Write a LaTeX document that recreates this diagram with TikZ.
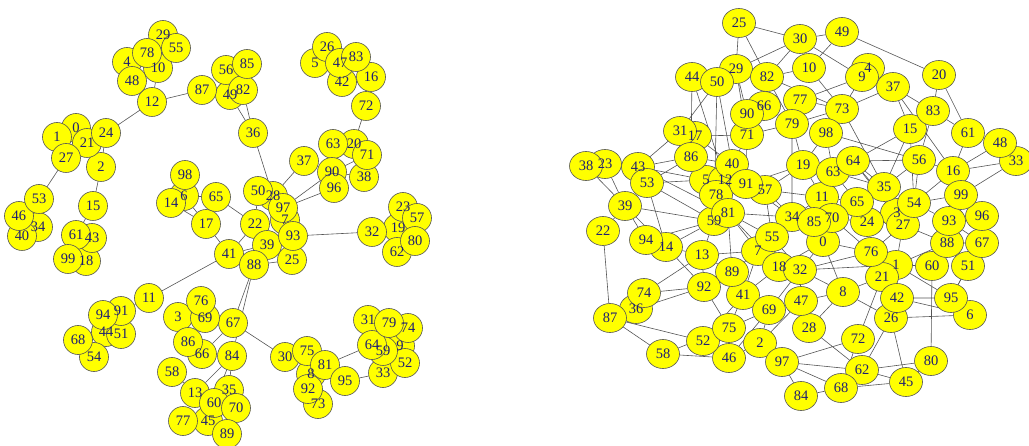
\documentclass[tikz,border=0pt]{standalone}
\usepackage{fontspec}
\setmainfont{Liberation Serif}
\usepackage{tikz}
\usetikzlibrary{shapes.geometric,backgrounds}
\definecolor{vyellow}{RGB}{255,255,0}
\definecolor{vlabel}{RGB}{30,30,115}
\definecolor{vline}{RGB}{85,85,85}

\begin{document}
\begin{tikzpicture}[x=1pt,y=-1pt,
  font={\fontsize{14.5}{14.5}\selectfont},
  lnode/.style={circle,draw=vline,line width=0.6pt,fill=vyellow,minimum size=29pt,inner sep=0pt},
  rnode/.style={ellipse,draw=vline,line width=0.6pt,fill=vyellow,minimum width=33pt,minimum height=29pt,inner sep=0pt},
  vtext/.style={text=vlabel,inner sep=0pt},
  edge/.style={draw=vline,line width=0.6pt}]
  \useasboundingbox (0,0) rectangle (1029,446);
  % left network
  \node[lnode] (l0) at (76,128) {};
  \node[lnode] (l1) at (57,137) {};
  \node[lnode] (l2) at (101,167) {};
  \node[lnode] (l3) at (178,317) {};
  \node[lnode] (l4) at (127,62) {};
  \node[lnode] (l5) at (315,63) {};
  \node[lnode] (l6) at (184,196) {};
  \node[lnode] (l7) at (285,220) {};
  \node[lnode] (l8) at (311,374) {};
  \node[lnode] (l9) at (400,346) {};
  \node[lnode] (l10) at (158,68) {};
  \node[lnode] (l11) at (149,298) {};
  \node[lnode] (l12) at (152,102) {};
  \node[lnode] (l13) at (195,393) {};
  \node[lnode] (l14) at (171,203) {};
  \node[lnode] (l15) at (93,206) {};
  \node[lnode] (l16) at (371,77) {};
  \node[lnode] (l17) at (206,224) {};
  \node[lnode] (l18) at (86,261) {};
  \node[lnode] (l19) at (398,228) {};
  \node[lnode] (l20) at (354,144) {};
  \node[lnode] (l21) at (87,143) {};
  \node[lnode] (l22) at (255,224) {};
  \node[lnode] (l23) at (403,207) {};
  \node[lnode] (l24) at (106,133) {};
  \node[lnode] (l25) at (292,260) {};
  \node[lnode] (l26) at (327,47) {};
  \node[lnode] (l27) at (66,158) {};
  \node[lnode] (l28) at (273,196) {};
  \node[lnode] (l29) at (163,35) {};
  \node[lnode] (l30) at (285,357) {};
  \node[lnode] (l31) at (368,320) {};
  \node[lnode] (l32) at (372,232) {};
  \node[lnode] (l33) at (383,373) {};
  \node[lnode] (l34) at (38,227) {};
  \node[lnode] (l35) at (229,390) {};
  \node[lnode] (l36) at (253,133) {};
  \node[lnode] (l37) at (304,161) {};
  \node[lnode] (l38) at (364,177) {};
  \node[lnode] (l39) at (267,245) {};
  \node[lnode] (l40) at (22,236) {};
  \node[lnode] (l41) at (229,254) {};
  \node[lnode] (l42) at (342,82) {};
  \node[lnode] (l43) at (92,238) {};
  \node[lnode] (l44) at (106,332) {};
  \node[lnode] (l45) at (208,421) {};
  \node[lnode] (l46) at (19,216) {};
  \node[lnode] (l47) at (340,63) {};
  \node[lnode] (l48) at (132,81) {};
  \node[lnode] (l49) at (230,95) {};
  \node[lnode] (l50) at (258,191) {};
  \node[lnode] (l51) at (121,334) {};
  \node[lnode] (l52) at (405,363) {};
  \node[lnode] (l53) at (39,199) {};
  \node[lnode] (l54) at (94,357) {};
  \node[lnode] (l55) at (176,48) {};
  \node[lnode] (l56) at (226,70) {};
  \node[lnode] (l57) at (417,218) {};
  \node[lnode] (l58) at (172,372) {};
  \node[lnode] (l59) at (383,351) {};
  \node[lnode] (l60) at (214,403) {};
  \node[lnode] (l61) at (76,235) {};
  \node[lnode] (l62) at (397,252) {};
  \node[lnode] (l63) at (333,144) {};
  \node[lnode] (l64) at (372,345) {};
  \node[lnode] (l65) at (216,197) {};
  \node[lnode] (l66) at (202,354) {};
  \node[lnode] (l67) at (233,323) {};
  \node[lnode] (l68) at (78,340) {};
  \node[lnode] (l69) at (205,318) {};
  \node[lnode] (l70) at (236,408) {};
  \node[lnode] (l71) at (367,155) {};
  \node[lnode] (l72) at (366,106) {};
  \node[lnode] (l73) at (318,404) {};
  \node[lnode] (l74) at (408,328) {};
  \node[lnode] (l75) at (307,351) {};
  \node[lnode] (l76) at (201,301) {};
  \node[lnode] (l77) at (183,421) {};
  \node[lnode] (l78) at (147,53) {};
  \node[lnode] (l79) at (389,323) {};
  \node[lnode] (l80) at (415,241) {};
  \node[lnode] (l81) at (325,365) {};
  \node[lnode] (l82) at (243,90) {};
  \node[lnode] (l83) at (356,57) {};
  \node[lnode] (l84) at (232,356) {};
  \node[lnode] (l85) at (247,64) {};
  \node[lnode] (l86) at (188,342) {};
  \node[lnode] (l87) at (202,90) {};
  \node[lnode] (l88) at (254,265) {};
  \node[lnode] (l89) at (227,434) {};
  \node[lnode] (l90) at (332,172) {};
  \node[lnode] (l91) at (121,311) {};
  \node[lnode] (l92) at (308,389) {};
  \node[lnode] (l93) at (293,236) {};
  \node[lnode] (l94) at (103,315) {};
  \node[lnode] (l95) at (345,381) {};
  \node[lnode] (l96) at (334,188) {};
  \node[lnode] (l97) at (283,208) {};
  \node[lnode] (l98) at (185,175) {};
  \node[lnode] (l99) at (68,259) {};
  % right network
  \node[rnode] (r0) at (823,242) {};
  \node[rnode] (r1) at (896,265) {};
  \node[rnode] (r2) at (760,343) {};
  \node[rnode] (r3) at (897,213) {};
  \node[rnode] (r4) at (868,68) {};
  \node[rnode] (r5) at (706,180) {};
  \node[rnode] (r6) at (970,315) {};
  \node[rnode] (r7) at (758,251) {};
  \node[rnode] (r8) at (843,292) {};
  \node[rnode] (r9) at (862,77) {};
  \node[rnode] (r10) at (809,68) {};
  \node[rnode] (r11) at (822,197) {};
  \node[rnode] (r12) at (725,180) {};
  \node[rnode] (r13) at (702,255) {};
  \node[rnode] (r14) at (666,247) {};
  \node[rnode] (r15) at (910,129) {};
  \node[rnode] (r16) at (953,171) {};
  \node[rnode] (r17) at (695,136) {};
  \node[rnode] (r18) at (779,267) {};
  \node[rnode] (r19) at (803,165) {};
  \node[rnode] (r20) at (939,75) {};
  \node[rnode] (r21) at (882,277) {};
  \node[rnode] (r22) at (603,231) {};
  \node[rnode] (r23) at (605,164) {};
  \node[rnode] (r24) at (867,222) {};
  \node[rnode] (r25) at (739,23) {};
  \node[rnode] (r26) at (891,318) {};
  \node[rnode] (r27) at (903,225) {};
  \node[rnode] (r28) at (809,328) {};
  \node[rnode] (r29) at (736,69) {};
  \node[rnode] (r30) at (800,39) {};
  \node[rnode] (r31) at (680,131) {};
  \node[rnode] (r32) at (800,270) {};
  \node[rnode] (r33) at (1016,161) {};
  \node[rnode] (r34) at (792,217) {};
  \node[rnode] (r35) at (884,187) {};
  \node[rnode] (r36) at (636,309) {};
  \node[rnode] (r37) at (893,87) {};
  \node[rnode] (r38) at (586,166) {};
  \node[rnode] (r39) at (625,206) {};
  \node[rnode] (r40) at (732,164) {};
  \node[rnode] (r41) at (743,295) {};
  \node[rnode] (r42) at (897,298) {};
  \node[rnode] (r43) at (638,167) {};
  \node[rnode] (r44) at (692,77) {};
  \node[rnode] (r45) at (906,382) {};
  \node[rnode] (r46) at (729,358) {};
  \node[rnode] (r47) at (801,301) {};
  \node[rnode] (r48) at (1000,143) {};
  \node[rnode] (r49) at (842,32) {};
  \node[rnode] (r50) at (717,82) {};
  \node[rnode] (r51) at (968,266) {};
  \node[rnode] (r52) at (703,341) {};
  \node[rnode] (r53) at (647,183) {};
  \node[rnode] (r54) at (914,203) {};
  \node[rnode] (r55) at (772,237) {};
  \node[rnode] (r56) at (919,160) {};
  \node[rnode] (r57) at (765,190) {};
  \node[rnode] (r58) at (663,354) {};
  \node[rnode] (r59) at (714,221) {};
  \node[rnode] (r60) at (932,266) {};
  \node[rnode] (r61) at (968,133) {};
  \node[rnode] (r62) at (862,370) {};
  \node[rnode] (r63) at (833,172) {};
  \node[rnode] (r64) at (853,161) {};
  \node[rnode] (r65) at (857,202) {};
  \node[rnode] (r66) at (764,106) {};
  \node[rnode] (r67) at (982,243) {};
  \node[rnode] (r68) at (841,388) {};
  \node[rnode] (r69) at (769,310) {};
  \node[rnode] (r70) at (832,218) {};
  \node[rnode] (r71) at (747,135) {};
  \node[rnode] (r72) at (858,339) {};
  \node[rnode] (r73) at (842,109) {};
  \node[rnode] (r74) at (644,293) {};
  \node[rnode] (r75) at (729,328) {};
  \node[rnode] (r76) at (871,252) {};
  \node[rnode] (r77) at (800,100) {};
  \node[rnode] (r78) at (716,195) {};
  \node[rnode] (r79) at (792,124) {};
  \node[rnode] (r80) at (931,361) {};
  \node[rnode] (r81) at (728,213) {};
  \node[rnode] (r82) at (767,77) {};
  \node[rnode] (r83) at (933,111) {};
  \node[rnode] (r84) at (801,396) {};
  \node[rnode] (r85) at (814,222) {};
  \node[rnode] (r86) at (691,157) {};
  \node[rnode] (r87) at (610,318) {};
  \node[rnode] (r88) at (947,243) {};
  \node[rnode] (r89) at (732,272) {};
  \node[rnode] (r90) at (747,114) {};
  \node[rnode] (r91) at (746,184) {};
  \node[rnode] (r92) at (704,287) {};
  \node[rnode] (r93) at (949,221) {};
  \node[rnode] (r94) at (646,240) {};
  \node[rnode] (r95) at (951,298) {};
  \node[rnode] (r96) at (982,216) {};
  \node[rnode] (r97) at (782,362) {};
  \node[rnode] (r98) at (826,133) {};
  \node[rnode] (r99) at (961,195) {};
  % labels go over every vertex
  \foreach \i in {0,...,99} {
    \node[vtext] (lt\i) at (l\i) {\i};
    \node[vtext] (rt\i) at (r\i) {\i};
  }
  \begin{pgfonlayer}{background}
    % left edges
    \draw[edge] (l12) -- (l24) (l12) -- (l87) (l12) -- (l48) (l12) -- (l10)
      (l4) -- (l78) (l78) -- (l29) (l29) -- (l55) (l10) -- (l55) (l4) -- (l48) (l78) -- (l10)
      (l87) -- (l49) (l56) -- (l85) (l56) -- (l49) (l49) -- (l82) (l85) -- (l82)
      (l82) -- (l36) (l49) -- (l36) (l36) -- (l28)
      (l0) -- (l1) (l1) -- (l27) (l0) -- (l21) (l21) -- (l24) (l27) -- (l21) (l27) -- (l53)
      (l24) -- (l2) (l2) -- (l15) (l53) -- (l46) (l46) -- (l34) (l34) -- (l40) (l53) -- (l34)
      (l15) -- (l61) (l61) -- (l43) (l61) -- (l99) (l99) -- (l18) (l43) -- (l18)
      (l98) -- (l6) (l6) -- (l14) (l6) -- (l65) (l6) -- (l17) (l14) -- (l17) (l17) -- (l41) (l65) -- (l22)
      (l26) -- (l5) (l26) -- (l47) (l47) -- (l83) (l47) -- (l42) (l83) -- (l16) (l5) -- (l47) (l42) -- (l16)
      (l16) -- (l72) (l72) -- (l20) (l63) -- (l20) (l20) -- (l71) (l20) -- (l38)
      (l63) -- (l90) (l71) -- (l90) (l38) -- (l90) (l90) -- (l97) (l96) -- (l97) (l96) -- (l90)
      (l37) -- (l28) (l50) -- (l28) (l28) -- (l97) (l97) -- (l7) (l50) -- (l22) (l22) -- (l39)
      (l39) -- (l93) (l7) -- (l93) (l93) -- (l25) (l39) -- (l88) (l41) -- (l88) (l22) -- (l41)
      (l41) -- (l39) (l88) -- (l25) (l93) -- (l32)
      (l32) -- (l19) (l19) -- (l23) (l23) -- (l57) (l19) -- (l80) (l19) -- (l62) (l57) -- (l80)
      (l41) -- (l11) (l11) -- (l91) (l91) -- (l94) (l94) -- (l44) (l44) -- (l51) (l91) -- (l51)
      (l44) -- (l68) (l68) -- (l54) (l44) -- (l54)
      (l88) -- (l67) (l88) -- (l84) (l67) -- (l30) (l67) -- (l69) (l67) -- (l66)
      (l76) -- (l69) (l3) -- (l69) (l3) -- (l86) (l86) -- (l66) (l69) -- (l86) (l3) -- (l76)
      (l13) -- (l84) (l84) -- (l35) (l84) -- (l60) (l35) -- (l60) (l60) -- (l13) (l13) -- (l58)
      (l13) -- (l45) (l45) -- (l77) (l60) -- (l70) (l35) -- (l70) (l60) -- (l89) (l45) -- (l89)
      (l30) -- (l75) (l75) -- (l81) (l81) -- (l8) (l8) -- (l92) (l92) -- (l73) (l81) -- (l95)
      (l81) -- (l64) (l95) -- (l33)
      (l31) -- (l79) (l79) -- (l74) (l31) -- (l64) (l64) -- (l59) (l59) -- (l9) (l9) -- (l74)
      (l59) -- (l52) (l59) -- (l33) (l52) -- (l33);
    % right edges
    \draw[edge] (r25) -- (r29) (r25) -- (r82) (r25) -- (r30) (r29) -- (r30) (r29) -- (r90)
      (r29) -- (r44) (r82) -- (r30) (r82) -- (r10) (r82) -- (r79) (r82) -- (r66) (r82) -- (r73)
      (r44) -- (r50) (r44) -- (r12) (r44) -- (r86) (r50) -- (r31) (r50) -- (r40) (r50) -- (r59)
      (r29) -- (r71) (r66) -- (r90) (r66) -- (r79) (r90) -- (r71) (r71) -- (r17) (r71) -- (r91)
      (r71) -- (r12) (r71) -- (r79) (r17) -- (r31) (r31) -- (r86) (r17) -- (r40) (r31) -- (r43)
      (r86) -- (r43) (r86) -- (r53) (r86) -- (r40) (r86) -- (r81) (r38) -- (r23) (r38) -- (r39)
      (r23) -- (r39) (r23) -- (r43) (r43) -- (r53) (r43) -- (r5) (r43) -- (r81) (r53) -- (r59)
      (r53) -- (r14) (r39) -- (r59) (r39) -- (r22) (r39) -- (r94) (r40) -- (r91) (r40) -- (r12)
      (r40) -- (r57) (r5) -- (r12) (r5) -- (r78) (r12) -- (r91) (r91) -- (r57) (r91) -- (r34)
      (r57) -- (r11) (r57) -- (r34) (r57) -- (r19) (r78) -- (r81) (r81) -- (r59) (r81) -- (r34)
      (r81) -- (r55) (r81) -- (r7) (r81) -- (r18) (r79) -- (r34);
    \draw[edge] (r30) -- (r49) (r30) -- (r10) (r30) -- (r9) (r49) -- (r10) (r49) -- (r20)
      (r10) -- (r73) (r9) -- (r77) (r9) -- (r4) (r9) -- (r73) (r4) -- (r37) (r37) -- (r73)
      (r37) -- (r83) (r37) -- (r15) (r37) -- (r16) (r20) -- (r83) (r20) -- (r61) (r83) -- (r61)
      (r83) -- (r56) (r61) -- (r16) (r61) -- (r48) (r48) -- (r33) (r48) -- (r16) (r16) -- (r33)
      (r56) -- (r16) (r33) -- (r99) (r77) -- (r73) (r73) -- (r79) (r73) -- (r35) (r73) -- (r98)
      (r98) -- (r56) (r98) -- (r19) (r98) -- (r63) (r15) -- (r64) (r15) -- (r35) (r15) -- (r54)
      (r56) -- (r54) (r56) -- (r64) (r56) -- (r35) (r79) -- (r19) (r19) -- (r63) (r19) -- (r91)
      (r63) -- (r35) (r64) -- (r35) (r64) -- (r63) (r65) -- (r35) (r11) -- (r65) (r35) -- (r54)
      (r54) -- (r99) (r54) -- (r93) (r54) -- (r16) (r16) -- (r99) (r99) -- (r96) (r64) -- (r27)
      (r11) -- (r70) (r11) -- (r34) (r11) -- (r63) (r85) -- (r0) (r70) -- (r24) (r0) -- (r76)
      (r0) -- (r32) (r34) -- (r55) (r55) -- (r7) (r55) -- (r18) (r7) -- (r18) (r18) -- (r32)
      (r59) -- (r13) (r13) -- (r89) (r13) -- (r92) (r89) -- (r81) (r89) -- (r41) (r7) -- (r41)
      (r7) -- (r89) (r14) -- (r94) (r14) -- (r13) (r14) -- (r92) (r94) -- (r59) (r63) -- (r65)
      (r65) -- (r24) (r24) -- (r76) (r24) -- (r3) (r3) -- (r54) (r27) -- (r54) (r27) -- (r1)
      (r27) -- (r76) (r93) -- (r88) (r88) -- (r60) (r88) -- (r51) (r67) -- (r51) (r67) -- (r96)
      (r67) -- (r93) (r51) -- (r95) (r60) -- (r1) (r1) -- (r76) (r21) -- (r76) (r21) -- (r1)
      (r65) -- (r70) (r24) -- (r11);
    \draw[edge] (r32) -- (r8) (r32) -- (r76) (r21) -- (r8) (r8) -- (r47) (r8) -- (r28)
      (r8) -- (r26) (r21) -- (r42) (r21) -- (r72) (r42) -- (r95) (r1) -- (r95) (r60) -- (r80)
      (r6) -- (r26) (r26) -- (r45) (r26) -- (r62) (r72) -- (r97) (r72) -- (r68) (r62) -- (r97)
      (r62) -- (r45) (r68) -- (r45) (r62) -- (r80) (r28) -- (r62) (r97) -- (r84) (r97) -- (r68)
      (r84) -- (r68) (r47) -- (r32) (r1) -- (r88) (r27) -- (r88) (r95) -- (r51) (r32) -- (r1)
      (r42) -- (r6) (r22) -- (r87) (r14) -- (r59) (r13) -- (r7) (r92) -- (r74) (r36) -- (r92)
      (r74) -- (r13) (r87) -- (r52) (r87) -- (r58) (r87) -- (r36) (r58) -- (r46) (r58) -- (r75)
      (r75) -- (r41) (r75) -- (r69) (r75) -- (r92) (r52) -- (r41) (r46) -- (r2) (r46) -- (r69)
      (r2) -- (r97) (r2) -- (r69) (r2) -- (r47) (r41) -- (r18) (r69) -- (r32) (r34) -- (r0)
      (r85) -- (r70) (r0) -- (r8) (r3) -- (r35) (r93) -- (r99) (r96) -- (r93) (r67) -- (r88)
      (r6) -- (r95) (r80) -- (r45) (r47) -- (r28) (r26) -- (r42) (r5) -- (r86) (r78) -- (r59)
      (r12) -- (r78) (r76) -- (r42) (r0) -- (r18) (r55) -- (r32) (r34) -- (r85) (r57) -- (r55)
      (r70) -- (r76) (r19) -- (r11) (r64) -- (r3) (r3) -- (r27) (r52) -- (r46) (r52) -- (r75)
      (r14) -- (r39) (r5) -- (r53) (r17) -- (r86);
  \end{pgfonlayer}
\end{tikzpicture}
\end{document}
